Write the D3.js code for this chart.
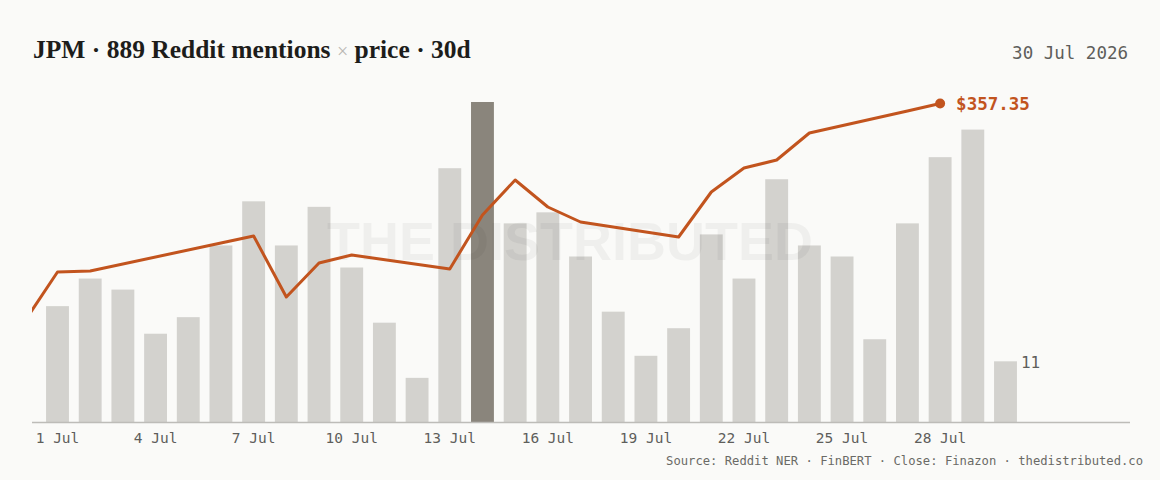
<!DOCTYPE html>
<html>
<head>
<meta charset="utf-8">
<script src="https://cdn.jsdelivr.net/npm/d3@7"></script>
<style>
  html, body { margin: 0; padding: 0; background: #fafaf8; }
  svg { display: block; }
</style>
</head>
<body>
<div id="chart"></div>
<script>
/**
 * DATA
 * */
const days = d3.range(1, 31).map(d => `2026-07-${String(d).padStart(2, "0")}`);
const mentions = [21, 26, 24, 16, 19, 32, 40, 32, 39, 28, 18, 8, 46, 58, 36,
                  38, 30, 20, 12, 17, 34, 26, 44, 32, 30, 15, 36, 48, 53, 11];
const priceDates = ["2026-06-30", "2026-07-01", "2026-07-02", "2026-07-06", "2026-07-07",
                    "2026-07-08", "2026-07-09", "2026-07-10", "2026-07-13", "2026-07-14",
                    "2026-07-15", "2026-07-16", "2026-07-17", "2026-07-20", "2026-07-21",
                    "2026-07-22", "2026-07-23", "2026-07-24", "2026-07-27", "2026-07-28"];
const closes = [335.6, 340.5, 340.6, 343.4, 344.1, 338.0, 341.4, 342.2, 340.8, 346.2,
                349.7, 347.0, 345.5, 344.0, 348.5, 350.9, 351.7, 354.4, 356.6, 357.35];
const tickDays = ["2026-07-01", "2026-07-04", "2026-07-07", "2026-07-10", "2026-07-13",
                  "2026-07-16", "2026-07-19", "2026-07-22", "2026-07-25", "2026-07-28"];
const peakDay = "2026-07-14";

/**
 * CONSTANTS
 * */
const width = 1160, height = 480;
const plot = { left: 32, right: 1130, top: 102, bottom: 422 };
const mono = "'DejaVu Sans Mono', 'Liberation Mono', monospace";
const orange = "#c2541e";

const parse = d3.utcParse("%Y-%m-%d");
const fmtTick = d3.utcFormat("%-d %b");

const svg = d3.select("#chart").append("svg")
  .attr("width", width)
  .attr("height", height);

svg.append("rect").attr("width", width).attr("height", height).attr("fill", "#fafaf8");

// scales
const x = d3.scaleBand()
  .domain(days)
  .range([plot.left, 1031])
  .paddingInner(0.3)
  .paddingOuter(0.43);

const xc = d => x(d) + x.bandwidth() / 2;
// day before the first band (30 Jun) sits one step to the left
const xPrice = d => days.includes(d) ? xc(d) : xc(days[0]) - x.step();

const yBar = d3.scaleLinear()
  .domain([0, d3.max(mentions)])
  .range([plot.bottom, plot.top]);

const yPrice = d3.scaleLinear()
  .domain([325.5, 357.5])
  .range([plot.bottom, plot.top]);

// title
const title = svg.append("text")
  .attr("x", 33).attr("y", 58)
  .attr("font-family", "'Liberation Serif', 'DejaVu Serif', serif")
  .attr("font-weight", 700)
  .attr("font-size", 25.5)
  .attr("fill", "#1d1d1b");
title.append("tspan").text("JPM · 889 Reddit mentions ");
title.append("tspan").attr("fill", "#b9b8b4").attr("font-weight", 400).attr("font-size", 20).text("×");
title.append("tspan").text(" price · 30d");

svg.append("text")
  .attr("x", 1128).attr("y", 59)
  .attr("text-anchor", "end")
  .attr("font-family", mono)
  .attr("font-size", 17.5)
  .attr("fill", "#5e5e5b")
  .text("30 Jul 2026");

// bars
svg.append("g")
  .selectAll("rect")
  .data(days.map((d, i) => ({ day: d, value: mentions[i] })))
  .join("rect")
    .attr("x", d => x(d.day))
    .attr("y", d => yBar(d.value))
    .attr("width", x.bandwidth())
    .attr("height", d => plot.bottom - yBar(d.value))
    .attr("fill", d => d.day === peakDay ? "#8a857c" : "#d3d2ce");

// watermark
svg.append("text")
  .attr("x", 570).attr("y", 260)
  .attr("text-anchor", "middle")
  .attr("font-family", "'Liberation Sans', Arial, sans-serif")
  .attr("font-weight", 700)
  .attr("font-size", 54)
  .attr("fill", "#000")
  .attr("fill-opacity", 0.045)
  .text("THE DISTRIBUTED");

// last bar label
const lastIdx = days.length - 1;
svg.append("text")
  .attr("x", x(days[lastIdx]) + x.bandwidth() + 4)
  .attr("y", yBar(mentions[lastIdx]) + 7)
  .attr("font-family", mono)
  .attr("font-size", 16)
  .attr("fill", "#5e5e5b")
  .text(mentions[lastIdx]);

// baseline axis
const xAxis = d3.axisBottom(x)
  .tickValues(tickDays)
  .tickSize(0)
  .tickPadding(11)
  .tickFormat(d => fmtTick(parse(d)));

const axisG = svg.append("g")
  .attr("transform", `translate(0,${plot.bottom})`)
  .call(xAxis);
axisG.select(".domain").remove();
axisG.selectAll("text")
  .attr("font-family", mono)
  .attr("font-size", 14.5)
  .attr("fill", "#5e5e5b");

svg.append("line")
  .attr("x1", plot.left).attr("x2", plot.right)
  .attr("y1", plot.bottom + 0.5).attr("y2", plot.bottom + 0.5)
  .attr("stroke", "#bdbcb8")
  .attr("stroke-width", 1.5);

// price line
svg.append("clipPath").attr("id", "clip")
  .append("rect")
  .attr("x", plot.left).attr("y", 0)
  .attr("width", plot.right - plot.left).attr("height", height);

const line = d3.line()
  .x(d => xPrice(d.date))
  .y(d => yPrice(d.close));

const priceData = priceDates.map((d, i) => ({ date: d, close: closes[i] }));

svg.append("path")
  .datum(priceData)
  .attr("clip-path", "url(#clip)")
  .attr("fill", "none")
  .attr("stroke", orange)
  .attr("stroke-width", 3)
  .attr("stroke-linejoin", "round")
  .attr("d", line);

const last = priceData[priceData.length - 1];
svg.append("circle")
  .attr("cx", xPrice(last.date))
  .attr("cy", yPrice(last.close))
  .attr("r", 5)
  .attr("fill", orange);

svg.append("text")
  .attr("x", xPrice(last.date) + 16)
  .attr("y", yPrice(last.close) + 6)
  .attr("font-family", mono)
  .attr("font-weight", 700)
  .attr("font-size", 17.5)
  .attr("fill", orange)
  .text(d3.format("$.2f")(last.close));

// source
svg.append("text")
  .attr("x", 1143).attr("y", 465)
  .attr("text-anchor", "end")
  .attr("font-family", mono)
  .attr("font-size", 12.2)
  .attr("fill", "#6a6a66")
  .text("Source: Reddit NER · FinBERT · Close: Finazon · thedistributed.co");
</script>
</body>
</html>
